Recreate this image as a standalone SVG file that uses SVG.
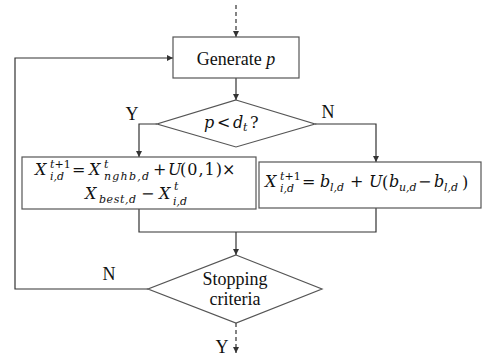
<svg xmlns="http://www.w3.org/2000/svg" width="482" height="356" viewBox="0 0 482 356">
<defs>
<marker id="ah" viewBox="0 0 10 10" refX="10" refY="5" markerWidth="6" markerHeight="6" orient="auto" markerUnits="userSpaceOnUse">
<path d="M0,0 L10,5 L0,10 Z" fill="#333"/>
</marker>
<style>
.box{fill:#fff;stroke:#555;stroke-width:1.2}
.ln{fill:none;stroke:#333;stroke-width:1.2}
.dash{stroke-dasharray:4,3}
.lb{font-family:"Liberation Serif","Times New Roman",serif;font-size:18px;fill:#111}
.it{font-style:italic}
.m{font-family:"DejaVu Serif","Liberation Serif",serif;font-style:italic;font-size:16px;fill:#111}
.o{font-family:"DejaVu Serif","Liberation Serif",serif;font-size:16px;fill:#111}
.s{font-family:"DejaVu Serif","Liberation Serif",serif;font-style:italic;font-size:11px;fill:#111}
</style>
</defs>
<g id="connectors">
<line class="ln dash" x1="236" y1="5" x2="236" y2="37" marker-end="url(#ah)"/>
<line class="ln" x1="236" y1="78" x2="236" y2="100" marker-end="url(#ah)"/>
<polyline class="ln" points="157,124 139,124 139,157" marker-end="url(#ah)"/>
<polyline class="ln" points="315,124 376,124 376,162" marker-end="url(#ah)"/>
<polyline class="ln" points="139,209 139,232 376,232 376,208"/>
<line class="ln" x1="236" y1="232" x2="236" y2="255" marker-end="url(#ah)"/>
<polyline class="ln" points="148,289 15,289 15,58 173,58" marker-end="url(#ah)"/>
<line class="ln dash" x1="236" y1="323" x2="236" y2="353" marker-end="url(#ah)"/>
<text class="lb" x="132" y="120" text-anchor="middle">Y</text>
<text class="lb" x="328" y="118" text-anchor="middle">N</text>
<text class="lb" x="109" y="280" text-anchor="middle">N</text>
<text class="lb" x="222" y="353" text-anchor="middle">Y</text>
</g>
<g id="generate">
<rect class="box" x="173" y="37" width="126" height="41"/>
<text class="lb" x="236" y="65" text-anchor="middle">Generate <tspan class="it">p</tspan></text>
</g>
<g id="decision1">
<polygon class="box" points="236,100 315,124 236,147 157,124"/>
<text class="m" x="204" y="128">p</text>
<text class="o" x="217" y="128">&lt;</text>
<text class="m" x="233" y="128">d</text>
<text class="s" x="243" y="131">t</text>
<text class="o" x="250" y="128">?</text>
</g>
<g id="update-neighbor">
<rect class="box" x="22" y="157" width="234" height="52"/>
<text class="m" x="35" y="175">X</text>
<text class="s" x="50" y="168">t<tspan font-style="normal">+1</tspan></text>
<text class="s" x="50" y="180">i,d</text>
<text class="o" x="72" y="175">=</text>
<text class="m" x="89" y="175">X</text>
<text class="s" x="104" y="168">t</text>
<text class="s" x="104" y="180" textLength="45" lengthAdjust="spacing">nghb,d</text>
<text class="o" x="153" y="175">+</text>
<text class="m" x="168" y="175">U</text>
<text class="o" x="180" y="175" textLength="42" lengthAdjust="spacing">(0,1)</text>
<text class="o" x="222" y="175">×</text>
<text class="m" x="85" y="199">X</text>
<text class="s" x="99" y="203" textLength="37" lengthAdjust="spacing">best,d</text>
<text class="o" x="141" y="199">−</text>
<text class="m" x="159" y="199">X</text>
<text class="s" x="174" y="190">t</text>
<text class="s" x="173" y="205">i,d</text>
</g>
<g id="update-random">
<rect class="box" x="259" y="162" width="222" height="46"/>
<text class="m" x="265" y="187">X</text>
<text class="s" x="280" y="180">t<tspan font-style="normal">+1</tspan></text>
<text class="s" x="280" y="192">i,d</text>
<text class="o" x="302" y="187">=</text>
<text class="m" x="320" y="187">b</text>
<text class="s" x="330" y="191">l,d</text>
<text class="o" x="350" y="187">+</text>
<text class="m" x="369" y="187">U</text>
<text class="o" x="382" y="188" font-size="18">(</text>
<text class="m" x="389" y="187">b</text>
<text class="s" x="399" y="191">u,d</text>
<text class="o" x="418" y="187">−</text>
<text class="m" x="434" y="187">b</text>
<text class="s" x="444" y="191">l,d</text>
<text class="o" x="462" y="188" font-size="18">)</text>
</g>
<g id="stopping">
<polygon class="box" points="236,255 322,289 236,323 148,289"/>
<text class="lb" x="235" y="285" text-anchor="middle">Stopping</text>
<text class="lb" x="235" y="305" text-anchor="middle">criteria</text>
</g>
</svg>
